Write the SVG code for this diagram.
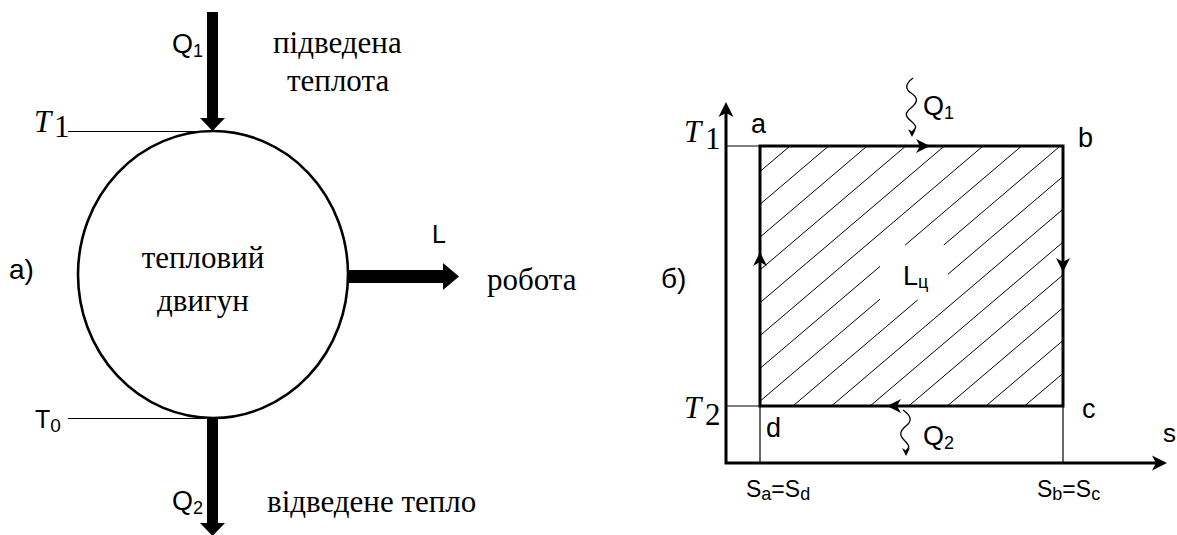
<svg xmlns="http://www.w3.org/2000/svg" xmlns:xlink="http://www.w3.org/1999/xlink" width="1177" height="535" viewBox="0 0 1177 535">
<style>
.serif{font-family:"Liberation Serif","Times New Roman",serif;font-size:31px;fill:#000}
.sans{font-family:"Liberation Sans",Arial,sans-serif;fill:#000}
.thin{stroke:#000;stroke-width:1.2;fill:none}
.thick{stroke:#000;stroke-width:3;fill:none}
.hatch{stroke:#000;stroke-width:1;fill:none}
.wave{stroke:#000;stroke-width:1.3;fill:none}
.fill{fill:#000;stroke:none}
</style>
<defs>
<path id="ah" d="M0,0 L-14,-7 L-10,0 L-14,7 Z"/>
<path id="ahBig" d="M0,0 L-15,-7.5 L-11,0 L-15,7.5 Z"/>
<path id="ahSmall" d="M0,0 L-8,-4 L-5.5,0 L-8,4 Z"/>
</defs>
<rect width="1177" height="535" fill="#fff"/>

<!-- ===== Left diagram (a) ===== -->
<g id="engine">
<ellipse cx="213" cy="274.5" rx="135" ry="143.5" stroke="#000" stroke-width="2.6" fill="none"/>
<text class="serif" x="203" y="268" text-anchor="middle">тепловий</text>
<text class="serif" x="203" y="311" text-anchor="middle">двигун</text>
</g>
<g id="label-a"><text class="sans" x="9" y="279" font-size="28">а)</text></g>
<g id="level-T1-left">
<line class="thin" x1="68" y1="131.5" x2="212" y2="131.5"/>
<text class="serif" x="34" y="132" font-size="30" font-style="italic">T</text>
<text class="serif" x="54" y="137" font-size="22">1</text>
</g>
<g id="level-T0-left">
<line class="thin" x1="68" y1="418.5" x2="205" y2="418.5"/>
<text class="sans" x="35" y="428" font-size="25">T<tspan font-size="19" dy="4">0</tspan></text>
</g>
<g id="label-heat-in">
<text class="sans" x="172" y="53" font-size="27">Q<tspan font-size="18" dy="4">1</tspan></text>
<text class="serif" x="273" y="53">підведена</text>
<text class="serif" x="287" y="91">теплота</text>
</g>
<g id="label-heat-out">
<text class="sans" x="172" y="510" font-size="27">Q<tspan font-size="18" dy="4">2</tspan></text>
<text class="serif" x="267" y="512">відведене тепло</text>
</g>
<g id="label-work">
<text class="sans" x="432" y="243" font-size="25">L</text>
<text class="serif" x="487" y="290">робота</text>
</g>

<!-- ===== Right diagram (b) ===== -->
<g id="label-b"><text class="sans" x="661" y="288" font-size="28">б)</text></g>
<g id="hatching">
<line class="hatch" x1="790" y1="146" x2="760" y2="171.5"/>
<line class="hatch" x1="828.6" y1="146" x2="760" y2="204.3"/>
<line class="hatch" x1="867.2" y1="146" x2="760" y2="237.1"/>
<line class="hatch" x1="905.8" y1="146" x2="760" y2="269.9"/>
<line class="hatch" x1="944.4" y1="146" x2="760" y2="302.7"/>
<line class="hatch" x1="983" y1="146" x2="760" y2="335.6"/>
<line class="hatch" x1="1021.6" y1="146" x2="905.2" y2="245"/>
<line class="hatch" x1="880" y1="266.4" x2="760" y2="368.4"/>
<line class="hatch" x1="1060.2" y1="146" x2="943.8" y2="245"/>
<line class="hatch" x1="880" y1="299.2" x2="760" y2="401.2"/>
<line class="hatch" x1="1063" y1="176.4" x2="948" y2="274.2"/>
<line class="hatch" x1="917.6" y1="300" x2="792.9" y2="406"/>
<line class="hatch" x1="1063" y1="209.2" x2="831.5" y2="406"/>
<line class="hatch" x1="1063" y1="242.1" x2="870.1" y2="406"/>
<line class="hatch" x1="1063" y1="274.9" x2="908.7" y2="406"/>
<line class="hatch" x1="1063" y1="307.7" x2="947.3" y2="406"/>
<line class="hatch" x1="1063" y1="340.5" x2="985.9" y2="406"/>
<line class="hatch" x1="1063" y1="373.3" x2="1024.5" y2="406"/>
</g>
<g id="cycle">
<rect class="thick" x="760" y="146" width="303" height="260"/>
<text class="sans" x="903" y="285" font-size="27">L<tspan font-size="18" dy="3">ц</tspan></text>
</g>
<g id="axes">
<polyline class="thick" points="726,108 726,463 1160,463"/>
<use xlink:href="#ahBig" href="#ahBig" class="fill" transform="translate(726,102) rotate(-90)"/>
<use xlink:href="#ahBig" href="#ahBig" class="fill" transform="translate(1167,463)"/>
<text class="sans" x="1163" y="442" font-size="26">s</text>
</g>
<g id="guides">
<line class="thin" x1="726" y1="146" x2="760" y2="146"/>
<line class="thin" x1="726" y1="406" x2="760" y2="406"/>
<line class="thin" x1="760" y1="406" x2="760" y2="463"/>
<line class="thin" x1="1063" y1="406" x2="1063" y2="463"/>
</g>
<g id="point-a"><text class="sans" x="751" y="133" font-size="27">a</text></g>
<g id="point-b"><text class="sans" x="1078" y="147" font-size="27">b</text></g>
<g id="point-c"><text class="sans" x="1082" y="418" font-size="27">c</text></g>
<g id="point-d"><text class="sans" x="766" y="437" font-size="27">d</text></g>
<g id="level-T1-right">
<text class="serif" x="684" y="142" font-size="32" font-style="italic">T</text>
<text class="serif" x="705" y="149" font-size="23">1</text>
</g>
<g id="level-T2-right">
<text class="serif" x="684" y="418" font-size="32" font-style="italic">T</text>
<text class="serif" x="705" y="425" font-size="23">2</text>
</g>
<g id="entropy-labels">
<text class="sans" x="746" y="497" font-size="23">S<tspan font-size="18" dy="3">a</tspan><tspan dy="-3">=S</tspan><tspan font-size="18" dy="3">d</tspan></text>
<text class="sans" x="1037" y="497" font-size="23">S<tspan font-size="18" dy="3">b</tspan><tspan dy="-3">=S</tspan><tspan font-size="18" dy="3">c</tspan></text>
</g>
<g id="heat-Q1-right">
<text class="sans" x="923" y="115" font-size="27">Q<tspan font-size="18" dy="4">1</tspan></text>
</g>
<g id="heat-Q2-right">
<text class="sans" x="923" y="445" font-size="27">Q<tspan font-size="18" dy="4">2</tspan></text>
</g>

<!-- ===== Connectors ===== -->
<g id="connectors">
<rect class="fill" x="207" y="12" width="11" height="107"/>
<polygon class="fill" points="200,118 225,118 212.5,131"/>
<rect class="fill" x="207" y="418" width="11" height="106"/>
<polygon class="fill" points="200,523 225,523 212.5,536"/>
<rect class="fill" x="347" y="270" width="97" height="13"/>
<polygon class="fill" points="443,263 443,290 459,276.5"/>
<use xlink:href="#ah" href="#ah" class="fill" transform="translate(930,146)"/>
<use xlink:href="#ah" href="#ah" class="fill" transform="translate(1063,272) rotate(90)"/>
<use xlink:href="#ah" href="#ah" class="fill" transform="translate(887,406) rotate(180)"/>
<use xlink:href="#ah" href="#ah" class="fill" transform="translate(760,252) rotate(-90)"/>
<path class="wave" d="M913,78 C905,84 905,89 911,93 S919,101 912,107 S904,115 911,121 S916,128 912,132"/>
<use xlink:href="#ahSmall" href="#ahSmall" class="fill" transform="translate(912,137) rotate(90)"/>
<path class="wave" d="M903,410 C910,415 913,420 907,425 S898,434 904,440 S910,447 906,451"/>
<use xlink:href="#ahSmall" href="#ahSmall" class="fill" transform="translate(906,456) rotate(90)"/>
</g>
</svg>
